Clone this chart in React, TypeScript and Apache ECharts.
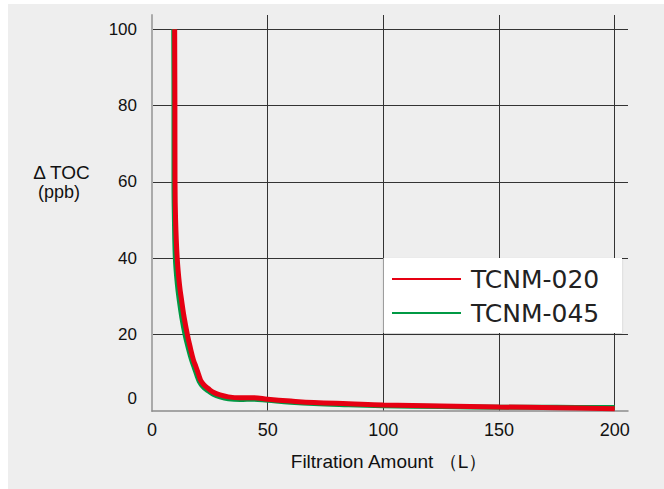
import React, { useEffect, useRef } from "react";
import * as echarts from "echarts";

const xTicks = [0, 50, 100, 150, 200];
const yTicks = [0, 20, 40, 60, 80, 100];
const seriesNames = ["TCNM-020", "TCNM-045"];
const xAxisName = "Filtration Amount （L）";
const yAxisNameTop = "Δ TOC";
const yAxisNameBottom = "(ppb)";

const tcnm020: [number, number][] = [
  [9.8, 100], [9.9, 80], [9.95, 60], [10.2, 50], [10.9, 40], [11.9, 33], [12.8, 29],
  [13.9, 24.5], [15.3, 20], [16.6, 16.5], [17.9, 13.4], [19.0, 11.6], [20.2, 9.5],
  [21.0, 8.1], [22.5, 6.8], [24.3, 5.9], [26.5, 4.9], [29.4, 4.2], [33, 3.7], [38, 3.45],
  [44, 3.5], [50, 3.1], [60, 2.6], [70, 2.2], [85, 1.9], [100, 1.6], [125, 1.3],
  [150, 1.05], [175, 0.85], [200, 0.6],
];

const tcnm045: [number, number][] = [
  [9.4, 100], [9.5, 80], [9.5, 60], [9.7, 50], [10.1, 40], [11.0, 33], [11.8, 29],
  [12.9, 24.5], [14.3, 20], [15.7, 16.5], [17.1, 13.4], [18.3, 11.3], [19.5, 9.2],
  [20.4, 7.8], [22, 6.4], [24, 5.4], [26.5, 4.4], [29.4, 3.7], [33, 3.2], [38, 3.0],
  [44, 3.1], [50, 2.8], [60, 2.3], [70, 1.95], [85, 1.65], [100, 1.4], [125, 1.15],
  [150, 1.0], [175, 0.95], [200, 0.9],
];

const FONT = "'Liberation Sans', Arial, Helvetica, sans-serif";
const LEGEND_FONT = "'DejaVu Sans', 'Liberation Sans', sans-serif";
const CLEAR = "rgba(0,0,0,0)";
const GRID = "#333333";

export default function App() {
  const ref = useRef<HTMLDivElement>(null);

  useEffect(() => {
    if (!ref.current) return;
    const chart = echarts.init(ref.current, undefined, { renderer: "svg" });
    const option: any = {
      animation: false,
      backgroundColor: "transparent",
      grid: { left: 152, top: 15, width: 476, height: 396, outerBoundsMode: "none" },
      xAxis: {
        type: "value",
        min: 0,
        max: 205.75,
        interval: 50,
        axisLine: { show: true, lineStyle: { color: "#8c8c8c", width: 1.5 } },
        axisTick: { show: false },
        axisLabel: {
          formatter: (v: number) => (xTicks.includes(v) ? String(v) : ""),
          fontSize: 18,
          color: "#111",
          fontFamily: FONT,
          margin: 10,
        },
        splitLine: {
          show: true,
          lineStyle: { color: [CLEAR, GRID, GRID, GRID, GRID, CLEAR], width: 1 },
        },
      },
      yAxis: {
        type: "value",
        min: 0,
        max: 103.75,
        interval: 20,
        axisLine: { show: true, lineStyle: { color: "#aaaaaa", width: 2 } },
        axisTick: { show: false },
        axisLabel: {
          formatter: (v: number) =>
            v === 0 ? "{z|0}" : yTicks.includes(v) ? String(v) : "",
          fontSize: 17,
          color: "#111",
          fontFamily: FONT,
          margin: 15,
          rich: {
            z: { fontSize: 17, color: "#111", fontFamily: FONT, padding: [0, 0, 26, 0] },
          },
        },
        splitLine: {
          show: true,
          lineStyle: { color: [CLEAR, GRID, GRID, GRID, GRID, GRID, CLEAR], width: 1 },
        },
      },
      legend: {
        orient: "vertical",
        left: 392,
        top: 266,
        padding: 0,
        itemGap: 8,
        itemWidth: 69,
        itemHeight: 2,
        icon: "rect",
        z: 20,
        data: seriesNames,
        textStyle: {
          fontSize: 25,
          lineHeight: 26,
          color: "#222",
          fontFamily: LEGEND_FONT,
          padding: [0, 0, 0, 5],
        },
      },
      graphic: [
        {
          type: "rect",
          z: 10,
          shape: { x: 383.5, y: 258, width: 238.5, height: 75 },
          style: { fill: "#ffffff", shadowBlur: 2, shadowColor: "rgba(0,0,0,0.15)", shadowOffsetY: 1 },
        },
        {
          type: "text",
          z: 10,
          x: 389,
          y: 461,
          style: {
            text: xAxisName,
            fontSize: 19,
            fontFamily: FONT,
            fill: "#111",
            align: "center",
            verticalAlign: "middle",
          },
        },
        {
          type: "text",
          z: 10,
          x: 61.5,
          y: 172,
          style: {
            text: yAxisNameTop,
            fontSize: 19,
            fontFamily: FONT,
            fill: "#111",
            align: "center",
            verticalAlign: "middle",
          },
        },
        {
          type: "text",
          z: 10,
          x: 59,
          y: 191.5,
          style: {
            text: yAxisNameBottom,
            fontSize: 18,
            fontFamily: FONT,
            fill: "#111",
            align: "center",
            verticalAlign: "middle",
          },
        },
      ],
      series: [
        {
          name: seriesNames[0],
          type: "line",
          data: tcnm020,
          symbol: "none",
          smooth: 0.4,
          z: 3,
          color: "#e60012",
          lineStyle: { width: 5, color: "#e60012" },
        },
        {
          name: seriesNames[1],
          type: "line",
          data: tcnm045,
          symbol: "none",
          smooth: 0.4,
          z: 2,
          color: "#009944",
          lineStyle: { width: 5, color: "#009944" },
        },
      ],
    };
    chart.setOption(option);
    return () => chart.dispose();
  }, []);

  return (
    <div style={{ position: "absolute", left: 0, top: 0, width: 664, height: 489, background: "#ffffff" }}>
      <div style={{ position: "absolute", left: 8, top: 4, width: 656, height: 485, background: "#eeeeee" }} />
      <div ref={ref} style={{ position: "absolute", left: 0, top: 0, width: 664, height: 489 }} />
    </div>
  );
}
